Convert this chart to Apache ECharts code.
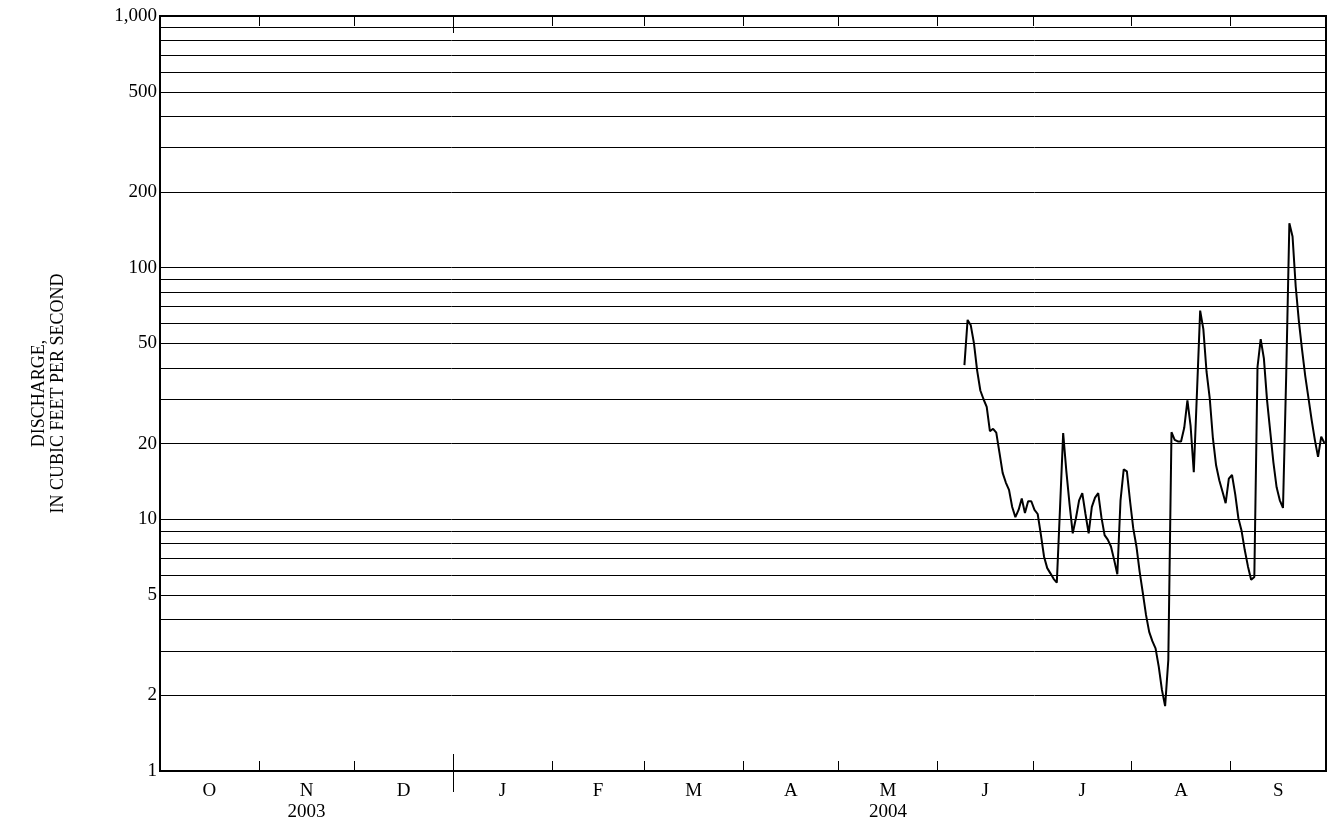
<!DOCTYPE html>
<html>
<head>
<meta charset="utf-8">
<script src="https://cdn.jsdelivr.net/npm/echarts@6/dist/echarts.min.js"></script>
<style>
html,body{margin:0;padding:0;background:#fff;}
#chart{width:1328px;height:828px;}
</style>
</head>
<body>
<div id="chart"></div>
<script>
// ---------------- data ----------------
const waterYearStart = '2003-10-01';
const monthStarts = ['2003-10-01','2003-11-01','2003-12-01','2004-01-01','2004-02-01','2004-03-01',
                     '2004-04-01','2004-05-01','2004-06-01','2004-07-01','2004-08-01','2004-09-01','2004-10-01'];
const monthLabels = ['O','N','D','J','F','M','A','M','J','J','A','S'];
const yearLabels  = ['','2003','','','','','','2004','','','',''];
const yearBoundaryMonth = 3; // January

const yTickLabels = [1, 2, 5, 10, 20, 50, 100, 200, 500, 1000];
const yGridValues = [2,3,4,5,6,7,8,9, 20,30,40,50,60,70,80,90, 200,300,400,500,600,700,800,900];

const dischargeStartDate = '2004-06-09';
// daily mean discharge, ft3/s
const dischargeJun = [41, 62, 59, 50, 39, 32.5, 30, 28, 22.4, 22.9, 22.1, 18.4, 15.3, 14, 13.1, 11.2, 10.2, 10.9, 12.1, 10.6, 11.8, 11.8];
const dischargeJul = [10.9, 10.5, 8.7, 7.1, 6.4, 6.1, 5.8, 5.6, 11, 22, 15.5, 11.5, 8.8, 10.1, 11.9, 12.7, 10.5, 8.8, 11.2, 12.2, 12.7, 10.2, 8.65, 8.3, 7.8, 6.9, 6.05, 11.9, 15.8, 15.5, 11.8];
const dischargeAug = [9.2, 7.8, 6.2, 5.1, 4.17, 3.57, 3.28, 3.07, 2.6, 2.1, 1.81, 2.76, 22.2, 20.7, 20.4, 20.4, 23.1, 29.7, 23.5, 15.4, 32, 67.5, 57, 38.6, 30.3, 21, 16.4, 14.3, 12.9, 11.6, 14.5];
const dischargeSep = [15, 12.6, 10.1, 9.0, 7.55, 6.5, 5.75, 5.9, 40.3, 52, 43.6, 29.7, 22.3, 16.8, 13.4, 11.9, 11.1, 37, 150, 133, 84, 61, 47, 37, 30.3, 24.8, 20.7, 17.7, 21.3, 20.1];

// ---------------- build ----------------
const DAY = 86400000;
function dayIndex(s){ return (Date.parse(s + 'T00:00:00Z') - Date.parse(waterYearStart + 'T00:00:00Z')) / DAY; }
const bounds = monthStarts.map(dayIndex);
const totalDays = bounds[bounds.length - 1];
const innerBounds = bounds.slice(1, -1);
const regularTicks = innerBounds.filter((b, i) => i + 1 !== yearBoundaryMonth);
const yearTick = [bounds[yearBoundaryMonth]];
const monthMids = monthLabels.map((m, i) => (bounds[i] + bounds[i + 1]) / 2);

const discharge = [].concat(dischargeJun, dischargeJul, dischargeAug, dischargeSep);
const d0 = dayIndex(dischargeStartDate);
const seriesData = discharge.map((v, i) => [d0 + i + 0.5, v]);

const FONT = 'Liberation Serif';
const black = '#000';

function baseX(extra){
  return Object.assign({
    type: 'value', min: 0, max: totalDays, gridIndex: 0,
    splitLine: {show: false},
    axisLine: {show: false},
    axisLabel: {show: false},
    axisTick: {show: false}
  }, extra);
}

const chart = echarts.init(document.getElementById('chart'), null, {renderer: 'canvas'});
chart.setOption({
  animation: false,
  backgroundColor: '#fff',
  grid: {left: 160, right: 2, top: 16, bottom: 57, show: true, borderColor: black, borderWidth: 2, backgroundColor: 'transparent'},
  xAxis: [
    baseX({
      position: 'bottom',
      axisLine: {show: true, onZero: false, lineStyle: {color: black, width: 2}},
      axisTick: {show: true, inside: true, length: 10, customValues: regularTicks, lineStyle: {color: black, width: 1}},
      axisLabel: {
        show: true, customValues: monthMids, margin: 10,
        fontFamily: FONT, fontSize: 19, color: black, lineHeight: 21,
        formatter: function (v) {
          const i = monthMids.findIndex(m => Math.abs(m - v) < 1e-6);
          if (i < 0) return '';
          return yearLabels[i] ? monthLabels[i] + '\n' + yearLabels[i] : monthLabels[i];
        }
      }
    }),
    baseX({position: 'bottom', axisTick: {show: true, inside: true, length: 17, customValues: yearTick, lineStyle: {color: black, width: 1}}}),
    baseX({position: 'bottom', axisTick: {show: true, inside: false, length: 21, customValues: yearTick, lineStyle: {color: black, width: 1}}}),
    baseX({position: 'top',
      axisLine: {show: true, onZero: false, lineStyle: {color: black, width: 2}},
      axisTick: {show: true, inside: true, length: 10, customValues: regularTicks, lineStyle: {color: black, width: 1}}}),
    baseX({position: 'top', axisTick: {show: true, inside: true, length: 17, customValues: yearTick, lineStyle: {color: black, width: 1}}})
  ],
  yAxis: {
    type: 'log', logBase: 10, min: 1, max: 1000,
    axisLine: {show: true, onZero: false, lineStyle: {color: black, width: 2}},
    axisTick: {show: false},
    axisLabel: {
      customValues: yTickLabels, margin: 3,
      fontFamily: FONT, fontSize: 19, color: black,
      formatter: v => Number(v).toLocaleString('en-US')
    },
    splitLine: {show: true, lineStyle: {color: black, width: 1}},
    minorSplitLine: {show: false},
    name: 'DISCHARGE,\nIN CUBIC FEET PER SECOND',
    nameLocation: 'middle', nameRotate: 90, nameGap: 92,
    nameTextStyle: {fontFamily: FONT, fontSize: 18, color: black, lineHeight: 19, align: 'center'}
  },
  series: [{
    type: 'line', xAxisIndex: 0, yAxisIndex: 0,
    data: seriesData, showSymbol: false, symbol: 'none',
    lineStyle: {color: black, width: 2},
    markLine: {
      silent: true, symbol: ['none', 'none'], animation: false,
      label: {show: false},
      lineStyle: {color: black, width: 1, type: 'solid'},
      emphasis: {disabled: true},
      data: yGridValues.map(v => ({yAxis: v}))
    }
  }]
});
</script>
</body>
</html>
